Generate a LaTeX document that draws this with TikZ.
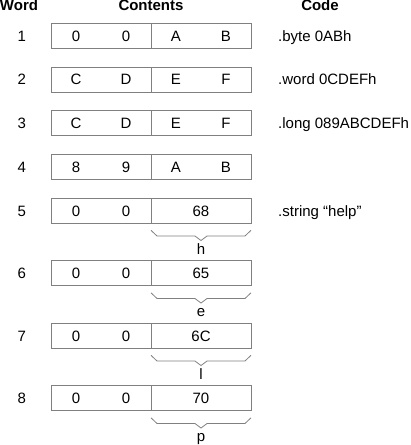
\documentclass[tikz,border=0pt]{standalone}
\usepackage{fontspec}
\setmainfont{Liberation Sans}
\usetikzlibrary{positioning}
\newcommand\twodig[2]{\makebox[50pt]{#1}\makebox[50pt]{#2}}
\tikzset{every node/.style={inner sep=0pt, text height=10.7pt, text depth=0pt},
  half/.style={draw=black!50, line width=0.8pt, outer sep=0pt, minimum width=100pt, minimum height=25pt},
  head/.style={font=\fontsize{15}{18}\selectfont\bfseries},
  asm/.style={anchor=west},
  brace/.style={draw=black!50, line width=0.8pt}}

\begin{document}
\begin{tikzpicture}[x=1pt, y=-1pt, font=\fontsize{15}{18}\selectfont]
   \useasboundingbox (0,0) rectangle (411,445);
   % headings
   \node[head] (word) at (19,5.5) {Word};
   \node[head] (contents) at (151,5.5) {Contents};
   \node[head] (code) at (320,5.5) {Code};
   % words 1-4
   \node (n1) at (21.7,35.8) {1};
   \node[half] (l1) at (101,35.8) {\twodig{0}{0}};
   \node[half, right=0pt of l1] (r1) {\twodig{A}{B}};
   \node[asm] (c1) at (278,35.8) {.byte 0ABh};
   \node (n2) at (21.7,79.5) {2};
   \node[half] (l2) at (101,79.5) {\twodig{C}{D}};
   \node[half, right=0pt of l2] (r2) {\twodig{E}{F}};
   \node[asm] (c2) at (278,79.5) {.word 0CDEFh};
   \node (n3) at (21.7,123.3) {3};
   \node[half] (l3) at (101,123.3) {\twodig{C}{D}};
   \node[half, right=0pt of l3] (r3) {\twodig{E}{F}};
   \node[asm] (c3) at (278,123.3) {.long 089ABCDEFh};
   \node (n4) at (21.7,167) {4};
   \node[half] (l4) at (101,167) {\twodig{8}{9}};
   \node[half, right=0pt of l4] (r4) {\twodig{A}{B}};
   % words 5-8, the string
   \node (n5) at (21.7,210.8) {5};
   \node[half] (l5) at (101,210.8) {\twodig{0}{0}};
   \node[half, right=0pt of l5] (r5) {68};
   \node[asm] (c5) at (278,210.8) {.string “help”};
   \node (n6) at (21.7,273.3) {6};
   \node[half] (l6) at (101,273.3) {\twodig{0}{0}};
   \node[half, right=0pt of l6] (r6) {65};
   \node (n7) at (21.7,335.8) {7};
   \node[half] (l7) at (101,335.8) {\twodig{0}{0}};
   \node[half, right=0pt of l7] (r7) {6C};
   \node (n8) at (21.7,398.3) {8};
   \node[half] (l8) at (101,398.3) {\twodig{0}{0}};
   \node[half, right=0pt of l8] (r8) {70};
   % braces
   \draw[brace] ([yshift=-7pt]r5.south west) -- ++(6,5.7) -- ++(38,0) -- ++(6,4.5) -- ++(6,-4.5) -- ++(38,0) -- ++(6,-5.7);
   \draw[brace] ([yshift=-7pt]r6.south west) -- ++(6,5.7) -- ++(38,0) -- ++(6,4.5) -- ++(6,-4.5) -- ++(38,0) -- ++(6,-5.7);
   \draw[brace] ([yshift=-7pt]r7.south west) -- ++(6,5.7) -- ++(38,0) -- ++(6,4.5) -- ++(6,-4.5) -- ++(38,0) -- ++(6,-5.7);
   \draw[brace] ([yshift=-7pt]r8.south west) -- ++(6,5.7) -- ++(38,0) -- ++(6,4.5) -- ++(6,-4.5) -- ++(38,0) -- ++(6,-5.7);
   \node (h5) at ([yshift=-38.2pt]r5.center) {h};
   \node (e6) at ([yshift=-38.2pt]r6.center) {e};
   \node (l7c) at ([yshift=-38.2pt]r7.center) {l};
   \node (p8) at ([yshift=-38.2pt]r8.center) {p};
\end{tikzpicture}
\end{document}
